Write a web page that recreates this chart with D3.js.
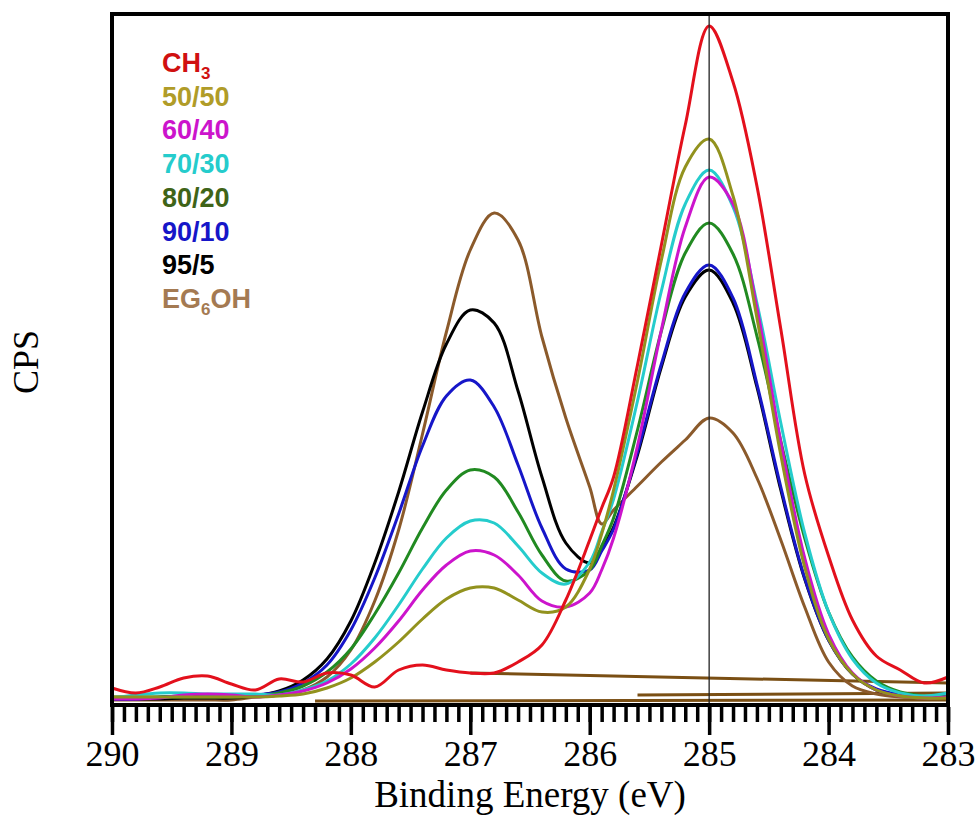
<!DOCTYPE html>
<html>
<head>
<meta charset="utf-8">
<script src="https://cdn.jsdelivr.net/npm/d3@7"></script>
<style>
body { margin: 0; background: #fff; }
svg text { fill: #000; }
</style>
</head>
<body>
<div id="chart"></div>
<script>
// binding energy grid (eV), shared by every curve
const energy = [290, 289.8, 289.6, 289.4, 289.2, 289, 288.8, 288.6, 288.4, 288.2, 288,
    287.8, 287.6, 287.4, 287.2, 287, 286.8, 286.6, 286.4, 286.2, 286, 285.9,
    285.8, 285.6, 285.4, 285.2, 285, 284.8, 284.6, 284.4, 284.2, 284,
    283.8, 283.6, 283.4, 283.2, 283];

// counts (arbitrary units)
const ch3   = [17,12,18,27,29,21,15,26,23,32,30,18,35,40,35,32,32,43,60,105,165,197,228,340,460,580,679,623,519,376,231,149,85,49,35,22,28];
const r5050 = [8,8,8,8,8,8,8,9,11,17,27,43,63,86,106,117,117,105,93,98,136,171,215,324,445,538,566,509,387,250,138,66,31,15,9,7,7];
const r6040 = [6,6,7,10,11,10,8,10,14,22,36,57,84,115,140,154,150,130,104,98,112,135,167,259,375,478,528,501,397,263,147,71,32,15,9,7,8];
const r7030 = [7,10,12,12,11,11,11,10,15,24,41,67,100,136,167,184,182,159,132,121,143,173,206,304,414,501,535,498,402,282,172,93,46,22,12,9,12];
const r8020 = [8,8,8,8,8,8,9,12,19,33,56,91,132,177,215,235,228,193,150,124,135,159,187,275,374,452,482,451,369,264,167,93,48,24,13,9,8];
const r9010 = [6,6,8,9,10,9,10,13,22,40,75,127,191,259,309,325,298,240,177,136,135,154,176,253,341,412,440,407,321,218,127,65,31,16,10,8,8];
const r955  = [6,6,6,7,7,7,9,14,25,46,84,142,213,293,361,395,382,314,228,162,142,157,178,250,338,408,435,402,318,215,126,65,31,15,10,8,8];
const eg6oh = [5,5,5,5,5,5,8,10,15,28,55,104,175,271,373,455,492,465,368,287,218,181,195,219,243,265,287,272,227,165,98,43,19,11,8,7,7];

// EG6OH background lines
const bgEnergy = [[287, 283], [288.3, 283], [285.6, 283]];
const bgCps = [[32, 22], [4, 5], [10, 12]];

const majorTicks = [290, 289, 288, 287, 286, 285, 284, 283];

const series = [
    {name: "EG6OH", values: eg6oh, color: "#8b5a2b", text: "#a47a52"},
    {name: "95/5", values: r955, color: "#000000", text: "#000000"},
    {name: "90/10", values: r9010, color: "#1616c8", text: "#1616c8"},
    {name: "80/20", values: r8020, color: "#218a21", text: "#3f6418"},
    {name: "70/30", values: r7030, color: "#25cccc", text: "#25cccc"},
    {name: "60/40", values: r6040, color: "#cc14cc", text: "#cc14cc"},
    {name: "50/50", values: r5050, color: "#92921e", text: "#b09c28"},
    {name: "CH3", values: ch3, color: "#e3101c", text: "#d01010"}
];

const width = 977, height = 815;
const m = {left: 112, right: 948, top: 14, bottom: 705};

const x = d3.scaleLinear().domain([290, 283]).range([m.left, m.right]);
const y = d3.scaleLinear().domain([0, 691]).range([m.bottom, m.top]);

const svg = d3.select("#chart").append("svg")
    .attr("width", width)
    .attr("height", height);

const line = d3.line()
    .x(d => x(d[0]))
    .y(d => y(d[1]))
    .curve(d3.curveCatmullRom.alpha(0.5));

const plot = svg.append("g");

// background lines
bgEnergy.forEach((e, i) => {
    plot.append("path")
        .attr("d", line(e.map((v, j) => [v, bgCps[i][j]])))
        .attr("fill", "none")
        .attr("stroke", "#7a4f14")
        .attr("stroke-width", 3);
});

plot.selectAll("path.curve")
    .data(series)
    .join("path")
    .attr("class", "curve")
    .attr("d", s => line(energy.map((e, i) => [e, s.values[i]])))
    .attr("fill", "none")
    .attr("stroke", s => s.color)
    .attr("stroke-width", 3)
    .attr("stroke-linejoin", "round");

// reference line at 285 eV
svg.append("line")
    .attr("x1", x(285)).attr("x2", x(285))
    .attr("y1", m.top).attr("y2", m.bottom)
    .attr("stroke", "#222")
    .attr("stroke-width", 1.3);

// frame
svg.append("rect")
    .attr("x", m.left).attr("y", m.top)
    .attr("width", m.right - m.left).attr("height", m.bottom - m.top)
    .attr("fill", "none")
    .attr("stroke", "#000")
    .attr("stroke-width", 4);

// minor ticks
const minor = d3.range(2830, 2901).map(d => d / 10);
const minorAxis = svg.append("g")
    .attr("transform", `translate(0,${m.bottom + 2})`)
    .call(d3.axisBottom(x).tickValues(minor).tickSize(15).tickFormat(""));
minorAxis.select(".domain").remove();
minorAxis.selectAll("line").attr("stroke-width", 3.5);

const xAxis = svg.append("g")
    .attr("transform", `translate(0,${m.bottom + 2})`)
    .call(d3.axisBottom(x).tickValues(majorTicks).tickSize(28).tickPadding(5).tickFormat(d3.format("d")));
xAxis.select(".domain").remove();
xAxis.selectAll("line").attr("stroke-width", 3.5);
xAxis.selectAll("text")
    .attr("font-family", "'Liberation Serif','Times New Roman',serif")
    .attr("font-size", 36)
    .attr("fill", "#000");

svg.append("text")
    .attr("x", (m.left + m.right) / 2)
    .attr("y", 807)
    .attr("text-anchor", "middle")
    .attr("font-family", "'Liberation Serif','Times New Roman',serif")
    .attr("font-size", 37)
    .text("Binding Energy (eV)");

svg.append("text")
    .attr("transform", "translate(38,362) rotate(-90)")
    .attr("text-anchor", "middle")
    .attr("font-family", "'Liberation Serif','Times New Roman',serif")
    .attr("font-size", 36)
    .text("CPS");

// legend
const legendOrder = ["CH3", "50/50", "60/40", "70/30", "80/20", "90/10", "95/5", "EG6OH"];
const legend = svg.append("g")
    .attr("font-family", "'Liberation Sans', Arial, sans-serif")
    .attr("font-size", 27)
    .attr("font-weight", "bold");

legendOrder.forEach((n, i) => {
    const s = series.find(d => d.name === n);
    const t = legend.append("text")
        .attr("x", 162)
        .attr("y", 72 + i * 33.7)
        .style("fill", s.text);
    if (n === "CH3") {
        t.append("tspan").text("CH");
        t.append("tspan").attr("font-size", 17).attr("dy", 7).text("3");
    } else if (n === "EG6OH") {
        t.append("tspan").text("EG");
        t.append("tspan").attr("font-size", 17).attr("dy", 7).text("6");
        t.append("tspan").attr("dy", -7).text("OH");
    } else {
        t.text(n);
    }
});
</script>
</body>
</html>
